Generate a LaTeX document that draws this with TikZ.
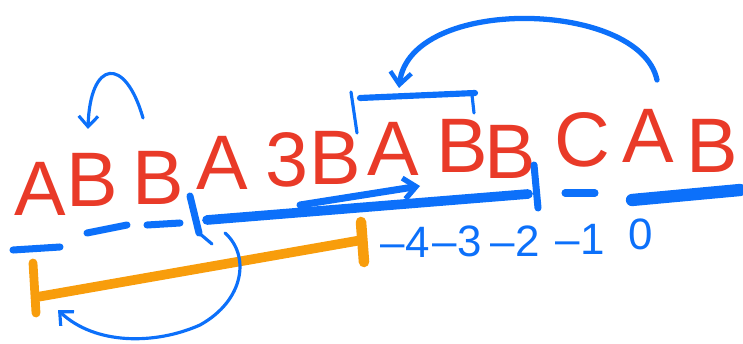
\documentclass[tikz,border=0pt]{standalone}
\usepackage{fontspec}
\setsansfont{Liberation Sans}
\usetikzlibrary{arrows.meta,positioning}

\definecolor{pen}{RGB}{12,112,250}
\definecolor{ink}{RGB}{233,58,40}
\definecolor{marker}{RGB}{248,157,12}

\tikzset{
  letter/.style={text=ink, font=\sffamily\fontsize{44}{44}\selectfont, inner sep=0pt, anchor=base},
  index/.style={text=pen, font=\sffamily\fontsize{25}{25}\selectfont, inner sep=0pt, anchor=base},
  fat/.style={draw=pen, line width=4pt, line cap=round},
  thin/.style={draw=pen, line width=1.8pt, line cap=round},
  barb/.style={-{Straight Barb[length=6pt,width=11pt,line width=1.8pt]}},
  brush/.style={draw=marker, line width=5.5pt, line cap=round}
}

\begin{document}
\begin{tikzpicture}[x=0.02cm, y=-0.02cm]
    \useasboundingbox (0,0) rectangle (743,344);

    % the string
    \foreach \ch/\x/\y [count=\i] in {A/40/215, B/92/207, B/158/205, A/222/190, 3/287/187, B/335/185,
                                      A/393/175, B/462/173, B/510/178, C/582/167, A/648/163, B/712/173} {
        \node[letter] (l\i) at (\x,\y) {\ch};
    }

    % offsets
    \foreach \t/\x/\y [count=\i] in {--4/405/257, --3/457/256, --2/515/256, --1/580/254, 0/641/249} {
        \node[index] (n\i) at (\x,\y) {\t};
    }

    % dashes under the first letters
    \draw[fat] (13,250) -- (60,247);
    \draw[fat] (87,233) -- (127,225);
    \draw[fat] (147,225) -- (180,223);

    % window
    \draw[fat, line width=5.5pt] (207,220) -- (528,194);
    \draw[fat] (190,196) -- (199,233);
    \draw[thin] (199,233) -- (212,244);
    \draw[fat] (534,165) -- (538,208);
    \coordinate (w0) at (300,205);
    \coordinate (w1) at (420,186);
    \draw[fat, -{Straight Barb[length=7pt,width=12pt,line width=3pt]}] (w0) -- (w1);
    \draw[fat] (565,193) -- (595,193);
    \draw[fat, line width=7pt] (632,200) -- (740,190);

    % bracket over A B
    \draw[fat, line width=3.5pt] (360,98) -- (475,93);
    \draw[thin] (351,92) -- (357,133);
    \draw[thin] (472,95) -- (474,113);

    % jumps
    \coordinate (j0) at (143,118);
    \coordinate (j1) at (88,129);
    \draw[thin, barb] (j0) .. controls (125,55) and (90,60) .. (j1);
    \coordinate (k0) at (657,80);
    \coordinate (k1) at (399,88);
    \draw[fat, line width=3pt, -{Straight Barb[length=7pt,width=12pt,line width=2.5pt]}]
        (k0) .. controls (640,0) and (410,-5) .. (k1);

    % orange span
    \draw[brush] (37,297) -- (362,240);
    \draw[brush, line width=5pt] (33,263) -- (36,313);
    \draw[brush, line width=6pt] (361,222) -- (364,262);

    % loop back under the span
    \coordinate (b0) at (225,233);
    \coordinate (b1) at (58,310);
    \draw[thin, barb] (b0) .. controls (250,255) and (245,300) .. (200,325)
        .. controls (155,345) and (95,345) .. (b1);
\end{tikzpicture}
\end{document}
